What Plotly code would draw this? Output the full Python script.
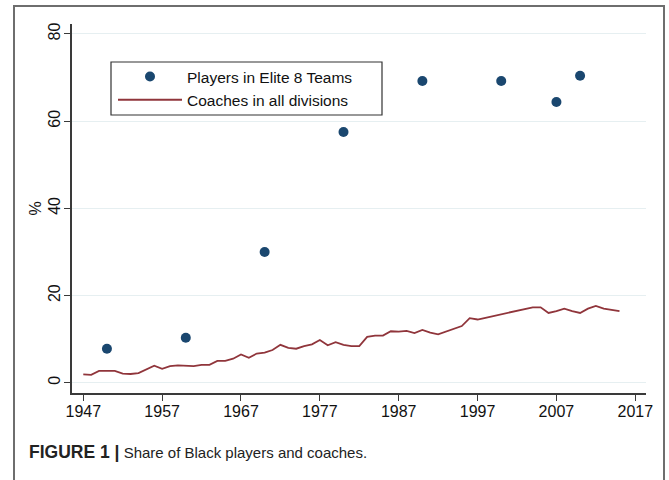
import plotly.graph_objects as go

# ---- data ----
player_years = [1950, 1960, 1970, 1980, 1990, 2000, 2007, 2010]
player_share = [7.8, 10.3, 30.0, 57.5, 69.2, 69.2, 64.4, 70.4]

coach_years = list(range(1947, 2016))
coach_share = [1.9, 1.8, 2.7, 2.7, 2.7, 2.1, 2.0, 2.2, 3.0, 3.9,
               3.2, 3.8, 4.0, 3.9, 3.8, 4.1, 4.1, 5.0, 5.0, 5.5,
               6.5, 5.7, 6.7, 6.9, 7.5, 8.7, 8.0, 7.8, 8.4, 8.8,
               9.8, 8.6, 9.3, 8.7, 8.4, 8.4, 10.5, 10.8, 10.8, 11.8,
               11.7, 11.9, 11.4, 12.1, 11.5, 11.1, 11.7, 12.4, 13.0, 14.8,
               14.5, 14.9, 15.3, 15.8, 16.1, 16.5, 17.0, 17.3, 17.3, 16.0,
               16.4, 17.0, 16.4, 16.0, 17.0, 17.6, 17.0, 16.7, 16.4]

x_ticks = [1947, 1957, 1967, 1977, 1987, 1997, 2007, 2017]
y_ticks = [0, 20, 40, 60, 80]

FONT = "Liberation Sans, Arial, Helvetica, sans-serif"
W, H = 669, 480
L, R, T, B = 72, 23, 24, 87
PW, PH = W - L - R, H - T - B


def px(x):
    return (x - L) / PW


def py(y):
    return (H - B - y) / PH


fig = go.Figure()
fig.add_trace(go.Scatter(
    x=player_years, y=player_share, mode="markers",
    name="Players in Elite 8 Teams",
    marker=dict(color="#1a476f", size=10),
))
fig.add_trace(go.Scatter(
    x=coach_years, y=coach_share, mode="lines",
    name="Coaches in all divisions",
    line=dict(color="#90353b", width=1.8),
))

axis_common = dict(
    showline=True, linecolor="#3a3a3a", linewidth=1.5,
    ticks="outside", ticklen=6, tickcolor="#3a3a3a", tickwidth=1.2,
    tickfont=dict(family=FONT, size=16, color="#111"),
    zeroline=False, mirror=False,
)

fig.update_layout(
    width=W, height=H,
    margin=dict(l=L, r=R, t=T, b=B, pad=0),
    paper_bgcolor="white", plot_bgcolor="white",
    font=dict(family=FONT, color="#111"),
    xaxis=dict(range=[1945.57, 2018.36], tickvals=x_ticks, showgrid=False,
               ticklabelstandoff=-3, **axis_common),
    yaxis=dict(range=[-2.36, 82.29], tickvals=y_ticks, showgrid=True,
               gridcolor="#e6eff1", gridwidth=1, tickangle=-90,
               ticklabelstandoff=-2,
               title=dict(text="%", font=dict(family=FONT, size=16, color="#111"),
                          standoff=0),
               **axis_common),
    showlegend=True,
    legend=dict(
        x=px(113), y=py(60), xanchor="left", yanchor="top",
        bgcolor="rgba(0,0,0,0)", borderwidth=0,
        font=dict(family=FONT, size=15.5, color="#111"),
        itemwidth=64, tracegroupgap=0,
    ),
    shapes=[
        dict(type="rect", xref="paper", yref="paper",
             x0=px(111), x1=px(382), y0=py(115), y1=py(62),
             line=dict(color="#333", width=1.2), fillcolor="rgba(0,0,0,0)",
             layer="above"),
        dict(type="rect", xref="paper", yref="paper",
             x0=px(14), x1=px(664), y0=py(485), y1=py(6),
             line=dict(color="#6e6e6e", width=2), fillcolor="rgba(0,0,0,0)",
             layer="below"),
    ],
    annotations=[
        dict(xref="paper", yref="paper", x=px(27), y=py(452),
             xanchor="left", yanchor="middle", showarrow=False,
             text='<span style="font-size:17.5px;font-weight:bold">FIGURE 1 |</span>'
                  ' Share of Black players and coaches.',
             font=dict(family=FONT, size=15, color="#222")),
    ],
)

fig.write_html("out.html")
